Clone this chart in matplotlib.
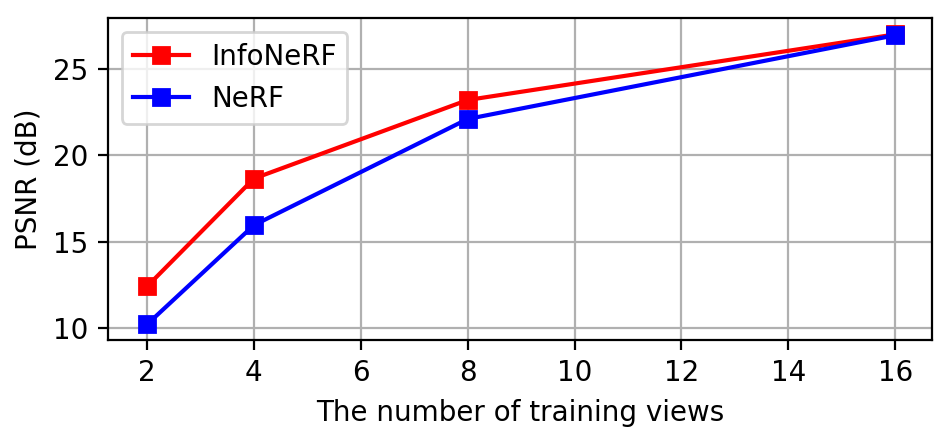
import matplotlib
matplotlib.use("Agg")
import matplotlib.pyplot as plt

views = [2, 4, 8, 16]
infonerf = [12.4, 18.65, 23.2, 27.0]
nerf = [10.2, 15.95, 22.1, 26.95]

dpi = 200
fig = plt.figure(figsize=(951/dpi, 441/dpi), dpi=dpi)
ax = fig.add_axes([108/951, 1-340/441, (932-108)/951, (340-18)/441])
ax.plot(views, infonerf, 'rs-', label='InfoNeRF', markersize=6)
ax.plot(views, nerf, 'bs-', label='NeRF', markersize=6)
ax.set_xticks([2, 4, 6, 8, 10, 12, 14, 16])
ax.set_yticks([10, 15, 20, 25])
ax.set_xlim(1.27, 16.69)
ax.set_ylim(9.3, 27.95)
ax.grid(True)
ax.set_axisbelow(True)
ax.set_xlabel('The number of training views')
ax.set_ylabel('PSNR (dB)')
ax.legend(loc='upper left')
fig.savefig('out.png', dpi=dpi)
